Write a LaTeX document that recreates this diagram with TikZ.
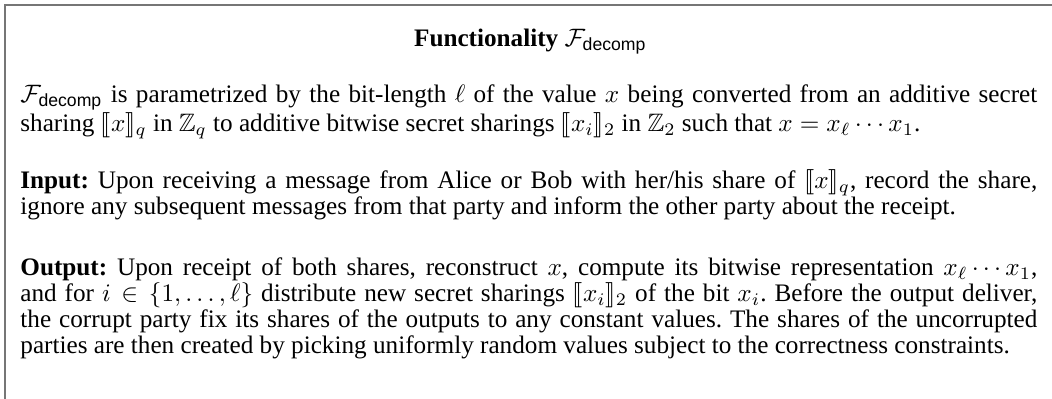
\documentclass[tikz,border=0pt]{standalone}
\usepackage{amsmath,amssymb}
\usepackage{stmaryrd}
\usepackage[no-math]{fontspec}
\setmainfont{Liberation Serif}
\newfontfamily\helvfam{Liberation Sans}
\newcommand{\Fdecomp}{\mathcal{F}_{\text{\helvfam\mdseries decomp}}}
\newcommand{\shr}[2]{\llbracket #1\rrbracket_{#2}}
\definecolor{framegray}{RGB}{118,118,118}
\frenchspacing
\tikzset{
  para/.style={anchor=base west, inner sep=0pt, text width=403.6pt, align=justify,
    font=\fontsize{10}{10.3}\selectfont},
  heading/.style={anchor=base, inner sep=0pt, font=\fontsize{10}{10.3}\selectfont},
  frameline/.style={draw=framegray, line width=0.65pt}
}
\begin{document}
\begin{tikzpicture}[x=1pt,y=1pt]
\useasboundingbox (0,0) rectangle (417.5,-158.3);
% open frame: the box runs on past the right and bottom edges
\coordinate (fbl) at (2.1,-170);
\coordinate (ftl) at (2.1,-2.1);
\coordinate (ftr) at (430,-2.1);
\draw[frameline] (fbl) -- (ftl) -- (ftr);
% heading
\node[heading] (title) at (210.5,-18.3) {\textbf{Functionality} $\Fdecomp$};
% description
\node[para] (desc) at (7.9,-40.5) {$\Fdecomp$ is parametrized by the bit-length $\ell$ of the value $x$ being converted from an additive secret\linebreak sharing $\shr{x}{q}$ in $\mathbb{Z}_q$ to additive bitwise secret sharings $\shr{x_i}{2}$ in $\mathbb{Z}_2$ such that $x = x_\ell\cdots x_1$.};
% input
\node[para] (input) at (7.9,-75.0) {\textbf{Input:} Upon receiving a message from Alice or Bob with her/his share of $\shr{x}{q}$, record the share,\linebreak ignore any subsequent messages from that party and inform the other party about the receipt.};
% output
\node[para] (output) at (7.9,-109.5) {\textbf{Output:} Upon receipt of both shares, reconstruct $x$, compute its bitwise representation $x_\ell\cdots x_1$,\linebreak and for $i\in\{1,\dots,\ell\}$ distribute new secret sharings $\shr{x_i}{2}$ of the bit $x_i$. Before the output deliver,\linebreak the corrupt party fix its shares of the outputs to any constant values. The shares of the uncorrupted\linebreak parties are then created by picking uniformly random values subject to the correctness constraints.};
\end{tikzpicture}
\end{document}
